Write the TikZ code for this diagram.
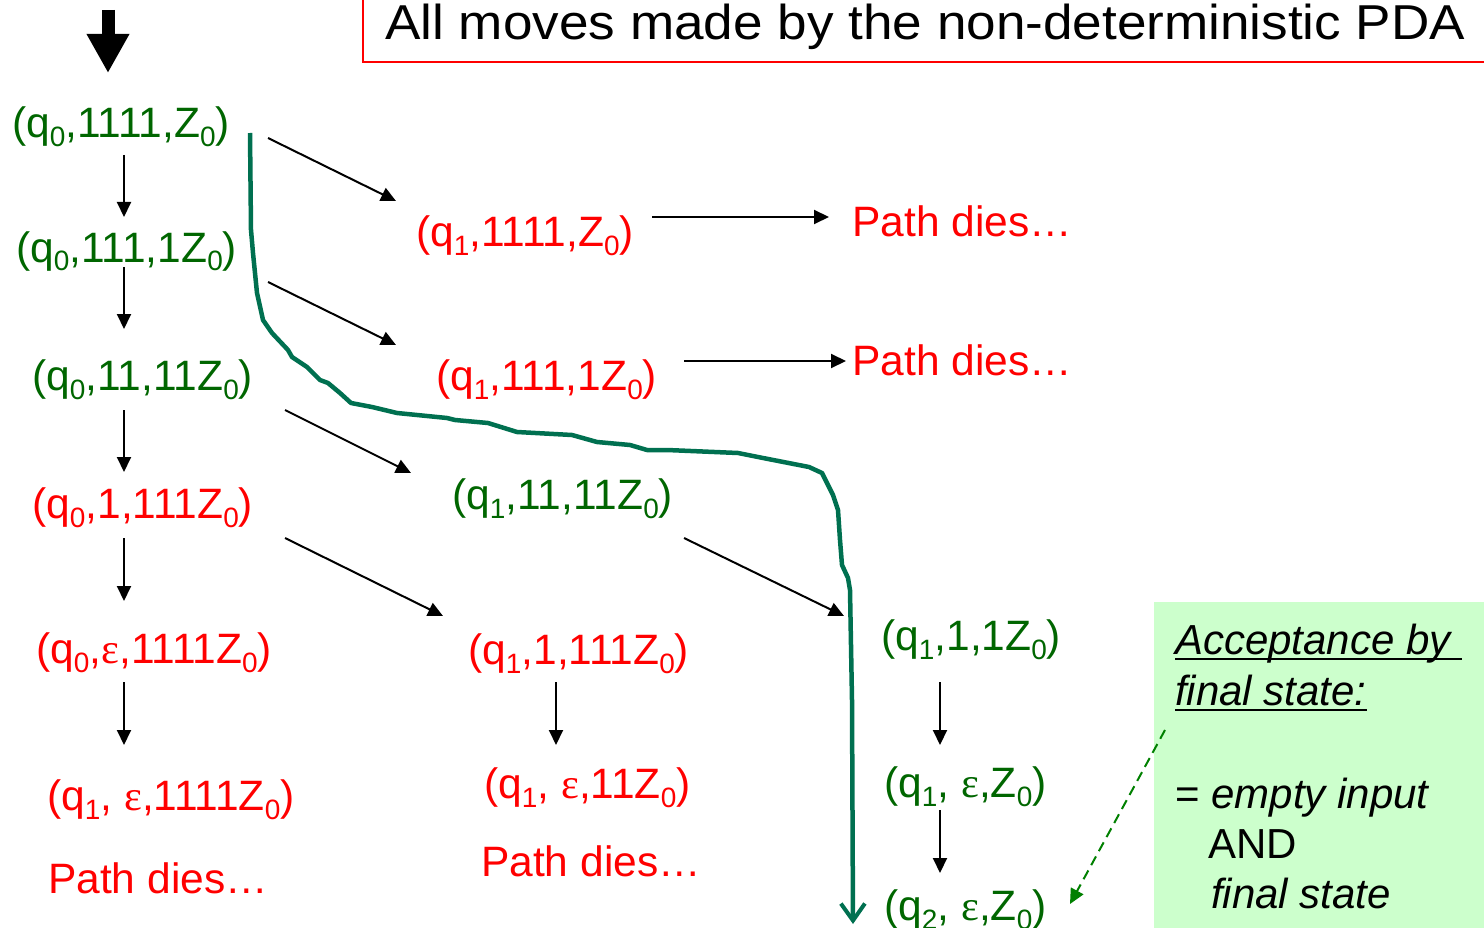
\documentclass[tikz,border=0pt]{standalone}
\usepackage{fontspec}
\usepackage{graphicx}
\setmainfont{Liberation Sans}
\newfontfamily\epsfont{Liberation Serif}
\usetikzlibrary{arrows.meta}
\definecolor{dg}{RGB}{0,102,0}
\definecolor{rd}{RGB}{255,0,0}
\definecolor{pathgreen}{RGB}{0,112,80}
\definecolor{dashgreen}{RGB}{0,128,0}
\definecolor{lg}{RGB}{204,255,204}
\newcommand\lo[1]{\raisebox{-9pt}{\fontsize{28}{28}\selectfont #1}}
\newcommand\eps{{\epsfont ε}}
\newcommand\ulx[1]{\setbox0\hbox{#1}\rlap{\rule[-6pt]{\wd0}{2pt}}\box0}
\begin{document}
\begin{tikzpicture}[x=1pt,y=-1pt,
  cfg/.style={anchor=base west, inner sep=0pt, font=\fontsize{42.5}{50}\selectfont},
  good/.style={cfg, text=dg},
  bad/.style={cfg, text=rd},
  note/.style={anchor=base west, inner sep=0pt, font=\fontsize{42}{50}\selectfont, text=black},
  arr/.style={line width=2pt, -{Triangle[length=15pt,width=14pt]}},
  bigarr/.style={line width=13pt, -{Triangle[length=39pt,width=40pt]}},
  winpath/.style={pathgreen, line width=4.5pt, line join=round, -{Straight Barb[length=17pt,width=24pt,line width=4pt]}},
  dasharr/.style={dashgreen, line width=2pt, dash pattern=on 10pt off 6pt, -{Triangle[length=15pt,width=14pt]}}
]
\useasboundingbox (0,0) rectangle (1484,928);

% title
\draw[rd, line width=2pt] (363,-10) rectangle (1494,62);
\node[anchor=base west, inner sep=0pt] (title) at (385,40)
  {\resizebox{1080pt}{\height}{\fontsize{49}{52}\selectfont All moves made by the non-deterministic PDA}};

% acceptance box
\fill[lg] (1154,602) rectangle (1490,935);
\node[note] (acc1) at (1175,654) {\itshape\ulx{Acceptance by\ }};
\node[note] (acc2) at (1175,705) {\itshape\ulx{final state:}};
\node[note] (acc3) at (1175,808) {= \itshape empty input};
\node[note] (acc4) at (1208,858) {AND};
\node[note] (acc5) at (1211,908) {\itshape final state};

% configurations
\node[good] (a0) at (12,138) {(q\lo0,1111,Z\lo0)};
\node[good] (a1) at (16,262) {(q\lo0,111,1Z\lo0)};
\node[good] (a2) at (32,390) {(q\lo0,11,11Z\lo0)};
\node[bad]  (a3) at (32,518) {(q\lo0,1,111Z\lo0)};
\node[bad]  (a4) at (36,663) {(q\lo0,\eps,1111Z\lo0)};
\node[bad]  (a5) at (47,810) {(q\lo1, \eps,1111Z\lo0)};
\node[bad]  (a6) at (48,893) {Path dies…};
\node[bad]  (b0) at (416,247) {(q\lo1,1111,Z\lo0)};
\node[bad]  (b0d) at (852,237) {Path dies…};
\node[bad]  (b1) at (436,390) {(q\lo1,111,1Z\lo0)};
\node[bad]  (b1d) at (852,375) {Path dies…};
\node[good] (b2) at (452,509) {(q\lo1,11,11Z\lo0)};
\node[bad]  (b3) at (468,664) {(q\lo1,1,111Z\lo0)};
\node[bad]  (b4) at (484,798) {(q\lo1, \eps,11Z\lo0)};
\node[bad]  (b5) at (481,876) {Path dies…};
\node[good] (c0) at (881,650) {(q\lo1,1,1Z\lo0)};
\node[good] (c1) at (884,797) {(q\lo1, \eps,Z\lo0)};
\node[good] (c2) at (884,920) {(q\lo2, \eps,Z\lo0)};

% connector end points
\coordinate (s0) at (108,10);  \coordinate (s1) at (108,73);
\coordinate (v1a) at (124,155); \coordinate (v1b) at (124,217);
\coordinate (v2a) at (124,267); \coordinate (v2b) at (124,329);
\coordinate (v3a) at (124,410); \coordinate (v3b) at (124,472);
\coordinate (v4a) at (124,538); \coordinate (v4b) at (124,601);
\coordinate (v5a) at (124,682); \coordinate (v5b) at (124,745);
\coordinate (d1a) at (268,138); \coordinate (d1b) at (396,201);
\coordinate (d2a) at (268,282); \coordinate (d2b) at (396,345);
\coordinate (d3a) at (285,410); \coordinate (d3b) at (411,473);
\coordinate (d4a) at (285,538); \coordinate (d4b) at (443,616);
\coordinate (d5a) at (684,538); \coordinate (d5b) at (844,616);
\coordinate (h1a) at (652,217); \coordinate (h1b) at (829,217);
\coordinate (h2a) at (684,361); \coordinate (h2b) at (846,361);
\coordinate (m1a) at (556,682); \coordinate (m1b) at (556,745);
\coordinate (r1a) at (940,682); \coordinate (r1b) at (940,745);
\coordinate (r2a) at (940,810); \coordinate (r2b) at (940,873);
\coordinate (ds) at (1165,730); \coordinate (de) at (1070,904);

% start arrow
\draw[bigarr] (s0) -- (s1);

% moves
\draw[arr] (v1a) -- (v1b);
\draw[arr] (v2a) -- (v2b);
\draw[arr] (v3a) -- (v3b);
\draw[arr] (v4a) -- (v4b);
\draw[arr] (v5a) -- (v5b);
\draw[arr] (d1a) -- (d1b);
\draw[arr] (d2a) -- (d2b);
\draw[arr] (d3a) -- (d3b);
\draw[arr] (d4a) -- (d4b);
\draw[arr] (d5a) -- (d5b);
\draw[arr] (h1a) -- (h1b);
\draw[arr] (h2a) -- (h2b);
\draw[arr] (m1a) -- (m1b);
\draw[arr] (r1a) -- (r1b);
\draw[arr] (r2a) -- (r2b);

% accepting path
\draw[winpath] (250,133) -- (251,230) -- (253,253) -- (257,293) -- (263,320) -- (272,333)
  -- (288,350) -- (292,357) -- (307,367) -- (320,380) -- (328,383) -- (340,393)
  -- (351,403) -- (372,407) -- (397,413) -- (447,418) -- (455,420) -- (488,423)
  -- (517,432) -- (572,435) -- (597,442) -- (630,445) -- (647,450) -- (667,450)
  -- (738,453) -- (763,458) -- (809,467) -- (822,473) -- (828,485) -- (833,495)
  -- (838,510) -- (840,540) -- (842,565) -- (848,578) -- (850,590) -- (852,700) -- (853,924);

% note arrow
\draw[dasharr] (ds) -- (de);
\end{tikzpicture}
\end{document}
